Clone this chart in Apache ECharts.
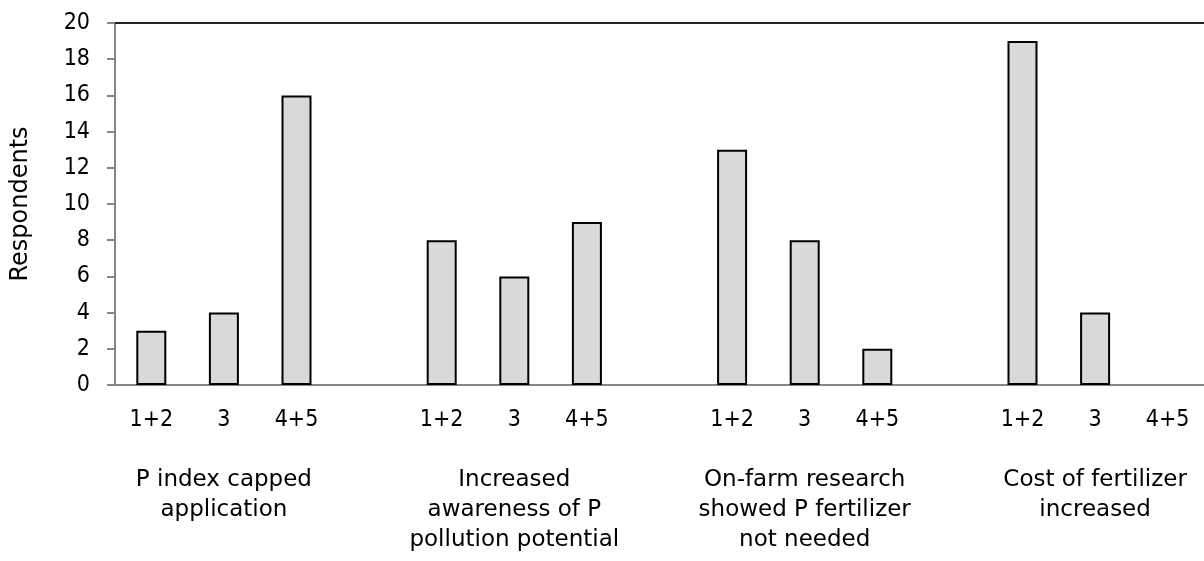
<!DOCTYPE html>
<html>
<head>
<meta charset="utf-8">
<script src="https://cdn.jsdelivr.net/npm/echarts@6/dist/echarts.min.js"></script>
<style>
  html, body { margin: 0; padding: 0; background: #fff; }
  #main { width: 1204px; height: 561px; }
</style>
</head>
<body>
<div id="main"></div>
<script>
// survey groups and the rating tiers inside each group
var groupNames = [
    'P index capped\napplication',
    'Increased\nawareness of P\npollution potential',
    'On-farm research\nshowed P fertilizer\nnot needed',
    'Cost of fertilizer\nincreased'
];
var tiers = ['1+2', '3', '4+5'];
// respondents per tier, one row per group
var respondents = [
    [3, 4, 16],
    [8, 6, 9],
    [13, 8, 2],
    [19, 4, 0]
];
var yTicks = { min: 0, max: 20, interval: 2 };

// flatten into slots: 3 bars per group, an empty gap slot between groups
var tierLabels = [];
var groupLabels = [];
var values = [];
for (var g = 0; g < groupNames.length; g++) {
    for (var t = 0; t < tiers.length; t++) {
        var v = respondents[g][t];
        tierLabels.push(tiers[t]);
        groupLabels.push(t === 1 ? groupNames[g] : '');
        // a zero bar leaves no outline
        values.push(v === 0 ? { value: v, itemStyle: { borderWidth: 0 } } : v);
    }
    if (g < groupNames.length - 1) {
        tierLabels.push('');
        groupLabels.push('');
        values.push('-');
    }
}

var numFont = 'DejaVu Sans Condensed';
var textFont = 'DejaVu Sans';

echarts.init(document.getElementById('main')).setOption({
    animation: false,
    grid: { left: 115, top: 23, right: 0, bottom: 176 },
    xAxis: [
        {
            type: 'category',
            data: tierLabels,
            position: 'bottom',
            axisLine: { lineStyle: { color: '#868686', width: 2 } },
            axisTick: { show: false },
            axisLabel: { interval: 0, margin: 24, fontFamily: numFont, fontSize: 23, color: '#000' }
        },
        {
            type: 'category',
            data: groupLabels,
            position: 'bottom',
            offset: 0,
            axisLine: { show: false },
            axisTick: { show: false },
            axisLabel: { interval: 0, margin: 80, fontFamily: textFont, fontSize: 23, lineHeight: 30, color: '#000' }
        },
        {
            type: 'category',
            data: tierLabels,
            position: 'top',
            axisLine: { lineStyle: { color: '#222', width: 2 } },
            axisTick: { show: false },
            axisLabel: { show: false }
        }
    ],
    yAxis: {
        type: 'value',
        min: yTicks.min,
        max: yTicks.max,
        interval: yTicks.interval,
        name: 'Respondents',
        nameLocation: 'middle',
        nameGap: 82,
        nameTextStyle: { fontFamily: textFont, fontSize: 24, color: '#000' },
        axisLine: { show: true, lineStyle: { color: '#868686', width: 2 } },
        axisTick: { show: true, length: 8, lineStyle: { color: '#868686', width: 2 } },
        axisLabel: { margin: 25, fontFamily: numFont, fontSize: 23, color: '#000' },
        splitLine: { show: false }
    },
    series: [
        {
            type: 'bar',
            xAxisIndex: 0,
            data: values,
            barWidth: 30,
            itemStyle: { color: '#d9d9d9', borderColor: '#000', borderWidth: 2 }
        }
    ]
});
</script>
</body>
</html>
